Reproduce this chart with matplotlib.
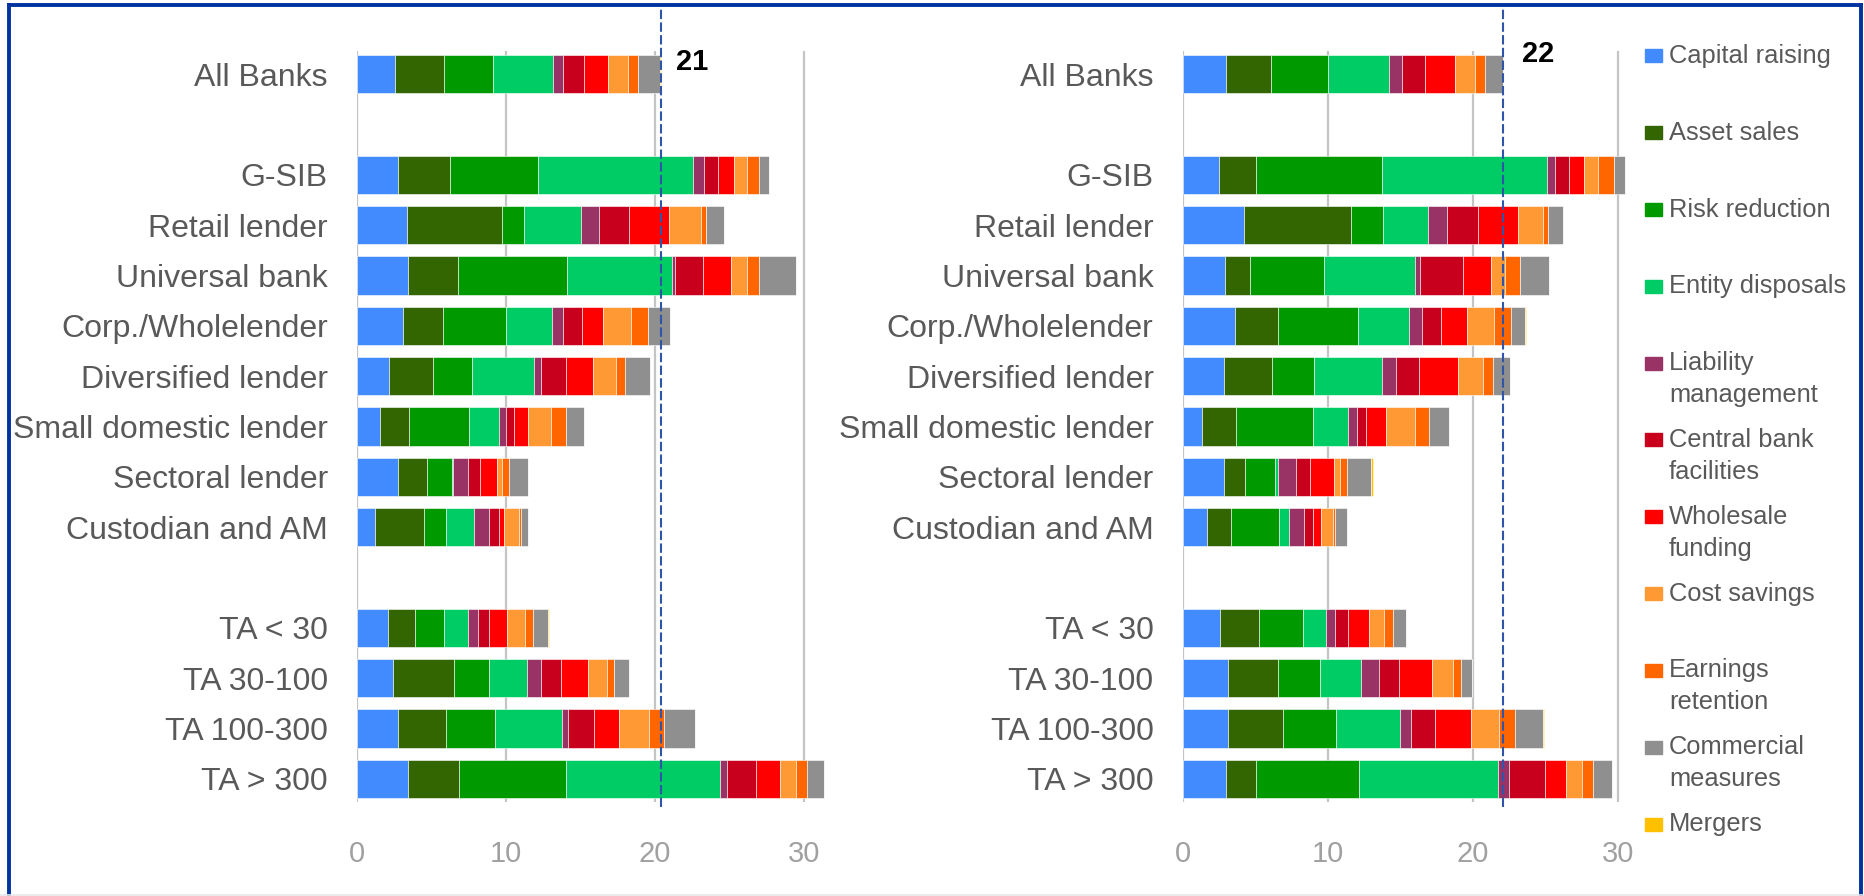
import matplotlib
matplotlib.use("Agg")
import matplotlib.pyplot as plt
from matplotlib.patches import Rectangle
from matplotlib.lines import Line2D

plt.rcParams['font.family'] = ['Liberation Sans', 'DejaVu Sans']

# bank groups, top to bottom, with a blank row between groups
group_all = ["All Banks"]
group_type = ["G-SIB", "Retail lender", "Universal bank", "Corp./Wholelender",
              "Diversified lender", "Small domestic lender", "Sectoral lender",
              "Custodian and AM"]
group_size = ["TA < 30", "TA 30-100", "TA 100-300", "TA > 300"]

measures = ["Capital raising", "Asset sales", "Risk reduction", "Entity disposals",
            "Liability\nmanagement", "Central bank\nfacilities", "Wholesale\nfunding",
            "Cost savings", "Earnings\nretention", "Commercial\nmeasures", "Mergers"]
colors = ["#428BFF", "#336600", "#009900", "#00CC66", "#993366", "#C8001E",
          "#FF0000", "#FF9933", "#FF6600", "#8F8F8F", "#FFC000"]

# 2021 values per measure (same category order as above)
cap_21 = [2.57, 2.77, 3.36, 3.45, 3.11, 2.13, 1.52, 2.77, 1.19, 2.06, 2.42, 2.73, 3.45]
asset_21 = [3.29, 3.47, 6.37, 3.33, 2.66, 2.97, 1.97, 1.91, 3.31, 1.83, 4.09, 3.24, 3.37]
risk_21 = [3.24, 5.91, 1.46, 7.31, 4.21, 2.62, 4.00, 1.72, 1.47, 1.95, 2.35, 3.29, 7.21]
entity_21 = [4.03, 10.38, 3.82, 7.03, 3.11, 4.16, 2.02, 0.07, 1.88, 1.59, 2.53, 4.52, 10.31]
liab_21 = [0.70, 0.78, 1.25, 0.22, 0.74, 0.49, 0.51, 0.96, 1.03, 0.69, 0.94, 0.40, 0.51]
cbf_21 = [1.41, 0.92, 2.00, 1.88, 1.27, 1.66, 0.49, 0.83, 0.63, 0.74, 1.36, 1.75, 1.93]
whole_21 = [1.59, 1.05, 2.66, 1.86, 1.39, 1.81, 0.99, 1.14, 0.33, 1.23, 1.81, 1.63, 1.61]
cost_21 = [1.39, 0.87, 2.14, 1.07, 1.88, 1.54, 1.52, 0.31, 1.01, 1.16, 1.26, 2.01, 1.10]
earn_21 = [0.67, 0.83, 0.36, 0.83, 1.16, 0.63, 1.01, 0.47, 0.16, 0.54, 0.49, 1.01, 0.71]
comm_21 = [1.47, 0.65, 1.19, 2.48, 1.48, 1.65, 1.23, 1.32, 0.49, 1.03, 1.03, 2.10, 1.12]
merg_21 = [0.02, 0.0, 0.0, 0.0, 0.0, 0.03, 0.0, 0.0, 0.0, 0.05, 0.0, 0.0, 0.0]

# 2022 values per measure
cap_22 = [2.97, 2.53, 4.23, 2.90, 3.61, 2.85, 1.36, 2.83, 1.70, 2.55, 3.10, 3.13, 2.97]
asset_22 = [3.14, 2.55, 7.40, 1.74, 2.99, 3.33, 2.34, 1.49, 1.66, 2.69, 3.50, 3.79, 2.11]
risk_22 = [3.91, 8.67, 2.19, 5.11, 5.51, 2.88, 5.31, 2.07, 3.31, 3.08, 2.89, 3.65, 7.10]
entity_22 = [4.21, 11.38, 3.10, 6.25, 3.50, 4.69, 2.37, 0.18, 0.69, 1.54, 2.83, 4.42, 9.54]
liab_22 = [0.92, 0.55, 1.29, 0.39, 0.92, 0.94, 0.64, 1.22, 0.98, 0.62, 1.24, 0.73, 0.76]
cbf_22 = [1.59, 0.96, 2.18, 2.94, 1.31, 1.63, 0.65, 1.01, 0.67, 0.92, 1.34, 1.71, 2.53]
whole_22 = [2.02, 1.04, 2.71, 1.91, 1.77, 2.67, 1.35, 1.64, 0.51, 1.47, 2.32, 2.46, 1.43]
cost_22 = [1.40, 0.96, 1.73, 1.01, 1.86, 1.72, 2.00, 0.39, 0.87, 0.99, 1.42, 1.93, 1.10]
earn_22 = [0.71, 1.13, 0.37, 1.01, 1.20, 0.69, 0.99, 0.53, 0.14, 0.67, 0.53, 1.10, 0.78]
comm_22 = [1.20, 0.74, 1.01, 1.98, 0.94, 1.15, 1.33, 1.65, 0.83, 0.87, 0.78, 1.93, 1.31]
merg_22 = [0.0, 0.0, 0.0, 0.0, 0.07, 0.0, 0.0, 0.12, 0.0, 0.0, 0.03, 0.05, 0.0]

series_21 = [cap_21, asset_21, risk_21, entity_21, liab_21, cbf_21, whole_21,
             cost_21, earn_21, comm_21, merg_21]
series_22 = [cap_22, asset_22, risk_22, entity_22, liab_22, cbf_22, whole_22,
             cost_22, earn_22, comm_22, merg_22]

# row positions with one empty row between groups
labels, ypos = [], []
row = 0
for grp in (group_all, group_type, group_size):
    for name in grp:
        labels.append(name)
        ypos.append(row)
        row += 1
    row += 1
n_rows = ypos[-1] + 1

W, H = 1864, 896
fig = plt.figure(figsize=(W / 100, H / 100), dpi=100)
fig.patch.set_facecolor("white")

ax_bottom = (H - 802) / H
ax_height = 751 / H
ax1 = fig.add_axes([357 / W, ax_bottom, 32 * 14.9 / W, ax_height])
ax2 = fig.add_axes([1182.7 / W, ax_bottom, 31 * 14.5 / W, ax_height])


def draw_panel(ax, series, xmax, year_label, label_xy):
    left = [0.0] * len(labels)
    for vals, col in zip(series, colors):
        ax.barh(ypos, vals, left=left, height=0.76, color=col,
                edgecolor="white", linewidth=0.4, zorder=2)
        left = [a + b for a, b in zip(left, vals)]
    ax.set_xlim(0, xmax)
    ax.set_ylim(n_rows - 0.54, -0.46)
    ax.set_yticks(ypos)
    ax.set_yticklabels(labels, fontsize=23, color="#595959")
    ax.set_xticks([0, 10, 20, 30])
    ax.tick_params(axis="x", labelsize=21, labelcolor="#A0A0A0", length=0, pad=27)
    ax.tick_params(axis="y", length=0, pad=21)
    ax.grid(axis="x", color="#C4C4C4", linewidth=1.6, zorder=0)
    ax.set_axisbelow(True)
    for sp in ax.spines.values():
        sp.set_visible(False)
    # all-banks total marker
    total = left[0]
    ax.axvline(total, ymin=-0.007, ymax=1.059, color="#2E55A8", lw=1.5,
               linestyle=(0, (4.5, 1.6)), clip_on=False, zorder=4)
    ax.text(label_xy[0], label_xy[1], year_label, fontsize=21, fontweight="bold",
            color="black", ha="left", va="center")


draw_panel(ax1, series_21, 32, "21", (21.4, -0.24))
draw_panel(ax2, series_22, 31, "22", (23.4, -0.41))

# legend drawn by hand: one row per measure, marker next to first text line
for i, (name, col) in enumerate(zip(measures, colors)):
    yc = 56 + i * 76.8
    fig.add_artist(Rectangle((1645 / W, 1 - (yc + 6.5) / H), 17 / W, 13 / H,
                             color=col, transform=fig.transFigure))
    for k, line in enumerate(name.split("\n")):
        fig.text(1669 / W, 1 - (yc + k * 32) / H, line, fontsize=18.4,
                 color="#595959", ha="left", va="center")

# outer frame
frame_col = "#0033A0"
fig.add_artist(Line2D([9 / W, 9 / W], [0, 1 - 5 / H], color=frame_col, lw=2.8,
                      transform=fig.transFigure))
fig.add_artist(Line2D([9 / W, 1861 / W], [1 - 5 / H, 1 - 5 / H], color=frame_col,
                      lw=2.8, transform=fig.transFigure))
fig.add_artist(Line2D([1861 / W, 1861 / W], [0, 1 - 5 / H], color=frame_col, lw=2.8,
                      transform=fig.transFigure))
fig.add_artist(Line2D([0, 1], [1 / H, 1 / H], color="#E6E6E6", lw=1.2,
                      transform=fig.transFigure))

fig.savefig("out.png", dpi=100)
